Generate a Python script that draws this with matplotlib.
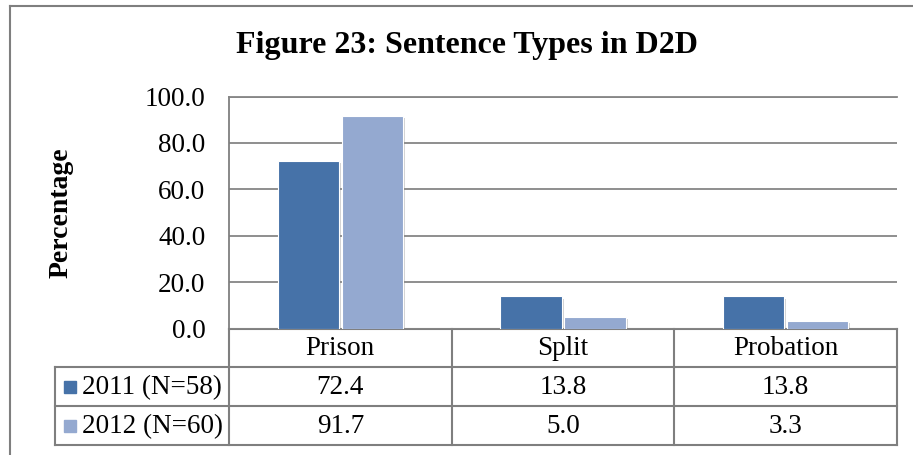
import matplotlib
matplotlib.use("Agg")
import matplotlib.pyplot as plt
import matplotlib.patheffects as pe
from matplotlib.patches import Rectangle
import numpy as np

# data
categories = ["Prison", "Split", "Probation"]
series_labels = ["2011 (N=58)", "2012 (N=60)"]
values_2011 = [72.4, 13.8, 13.8]
values_2012 = [91.7, 5.0, 3.3]
yticks = [0, 20, 40, 60, 80, 100]

colors = ["#4672a8", "#94a9d0"]
grid_c = "#868686"
line_c = "#7f7f7f"

plt.rcParams["font.family"] = ["Liberation Serif", "DejaVu Serif"]

W, H = 913, 455
fig = plt.figure(figsize=(W / 100, H / 100), dpi=100)

# overlay in pixel coords for the data table and the frame
ov = fig.add_axes([0, 0, 1, 1])
ov.set_xlim(0, W)
ov.set_ylim(H, 0)
ov.axis("off")

# plot area
x0, x1, ytop, ybot = 229, 897, 96.5, 328.5
ax = fig.add_axes([x0 / W, 1 - ybot / H, (x1 - x0) / W, (ybot - ytop) / H])
ax.patch.set_alpha(0)

xs = np.arange(len(categories))
bw = 0.275
shadow = [pe.SimplePatchShadow(offset=(1.5, -1.5), shadow_rgbFace="#7f7f7f", alpha=0.35), pe.Normal()]
for i, vals in enumerate([values_2011, values_2012]):
    bars = ax.bar(xs + (i - 0.5) * (bw + 0.012), vals, bw, color=colors[i],
                  edgecolor="white", linewidth=0.8, zorder=3)
    for b in bars:
        b.set_path_effects(shadow)

ax.set_xlim(-0.5, len(categories) - 0.5)
ax.set_ylim(0, 100)
ax.set_yticks(yticks)
ax.set_yticklabels([f"{t:.1f}" for t in yticks], fontsize=19.5)
ax.tick_params(axis="y", length=0, pad=17)
ax.set_xticks([])
ax.yaxis.grid(True, color=grid_c, linewidth=1.3)
ax.set_axisbelow(True)
for s in ["right", "bottom"]:
    ax.spines[s].set_visible(False)
ax.spines["top"].set_color(grid_c)
ax.spines["top"].set_linewidth(1.3)
ax.spines["left"].set_color(line_c)
ax.spines["left"].set_linewidth(1.3)

ax.set_ylabel("Percentage", fontsize=20, fontweight="bold")
ax.yaxis.set_label_coords((74 - x0) / (x1 - x0), 0.5)

fig.text(467 / W, 1 - 45 / H, "Figure 23: Sentence Types in D2D",
         fontsize=23, fontweight="bold", ha="center", va="center")

# data table below the axis
col_edges = np.linspace(x0, x1, len(categories) + 1)
row_y = [328.5, 367, 406, 445]
lk = dict(color=line_c, linewidth=1.5, solid_capstyle="projecting")
ov.plot([x0, x1], [row_y[0], row_y[0]], **lk)
for y in row_y[1:]:
    ov.plot([55, x1], [y, y], **lk)
for x in col_edges:
    ov.plot([x, x], [row_y[0], row_y[-1]], **lk)
ov.plot([55, 55], [row_y[1], row_y[-1]], **lk)

for j, cat in enumerate(categories):
    cx = (col_edges[j] + col_edges[j + 1]) / 2
    ov.text(cx, (row_y[0] + row_y[1]) / 2 + 1, cat, fontsize=19.5, ha="center", va="center")
    for i, vals in enumerate([values_2011, values_2012]):
        ov.text(cx, (row_y[i + 1] + row_y[i + 2]) / 2 + 1, f"{vals[j]:.1f}",
                fontsize=19.5, ha="center", va="center")

for i, lab in enumerate(series_labels):
    cy = (row_y[i + 1] + row_y[i + 2]) / 2
    ov.add_patch(Rectangle((64, cy - 6), 12, 12, color=colors[i]))
    ov.text(82, cy + 1, lab, fontsize=19.5, ha="left", va="center")

# outer frame (left and top visible)
ov.plot([10, 10], [6, H], color=line_c, linewidth=1.5)
ov.plot([10, W], [6, 6], color=line_c, linewidth=1.5)

fig.savefig("out.png", dpi=100)
